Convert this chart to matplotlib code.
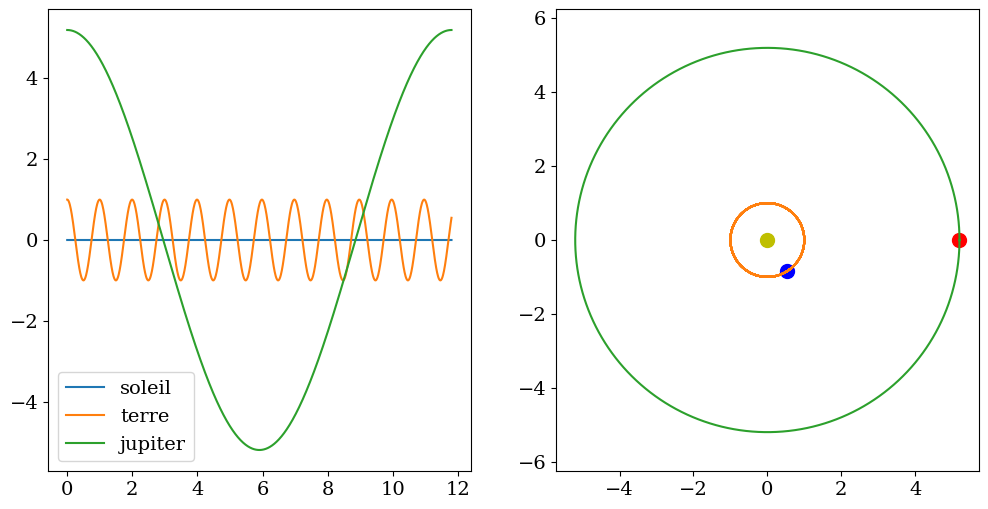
import numpy as np
import matplotlib
matplotlib.use("Agg")
import matplotlib.pyplot as plt

# --- data ---
names = ["soleil", "terre", "jupiter"]
orbit_radius = [0.0, 1.0, 5.2]          # AU
orbit_period = [1.0, 0.9964, 11.8]      # years
t_end = 11.8                            # years
n_samples = 1181
final_marks = [(0.0, 0.0, "yo"), (0.54, -0.84, "bo"), (5.2, 0.0, "ro")]
xticks_left = [0, 2, 4, 6, 8, 10, 12]

plt.rcParams["font.family"] = ["DejaVu Serif"]
plt.rcParams["font.size"] = 14

W, H = 988, 509
fig = plt.figure(figsize=(W / 100, H / 100), dpi=100)
ax1 = fig.add_axes([48 / W, 38 / H, 422.7 / W, 462 / H])
ax2 = fig.add_axes([556 / W, 38 / H, 422.7 / W, 462 / H])

t = np.linspace(0, t_end, n_samples)
xs, ys = [], []
for r, p in zip(orbit_radius, orbit_period):
    ang = 2 * np.pi * t / p
    xs.append(r * np.cos(ang))
    ys.append(r * np.sin(ang))

for name, x in zip(names, xs):
    ax1.plot(t, x, label=name)
ax1.set_xticks(xticks_left)
ax1.legend(loc="lower left")

for mx, my, fmt in final_marks:
    ax2.plot([mx], [my], fmt, markersize=10)
for x, y in zip(xs, ys):
    ax2.plot(x, y)
ax2.axis("equal")

fig.savefig("out.png", dpi=100)
